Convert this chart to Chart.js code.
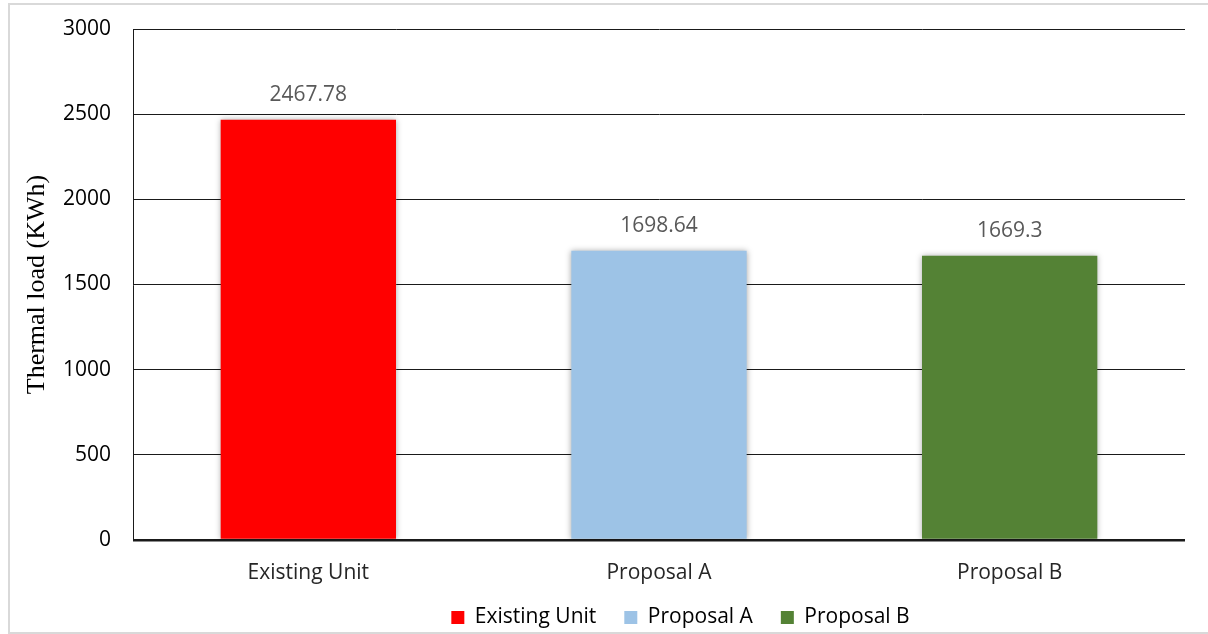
<!DOCTYPE html>
<html>
<head>
<meta charset="utf-8">
<script src="https://cdn.jsdelivr.net/npm/chart.js@4/dist/chart.umd.min.js"></script>
<style>
  html, body { margin: 0; padding: 0; background: #fff; }
  #wrap { width: 1208px; height: 634px; position: relative; }
</style>
</head>
<body>
<div id="wrap"><canvas id="chart_bar" width="1208" height="634"></canvas></div>
<script>
// data
var categories = ['Existing Unit', 'Proposal A', 'Proposal B']
var thermalLoad = [2467.78, 1698.64, 1669.3]
var valueLabels = ['2467.78', '1698.64', '1669.3']
var barColors = ['#ff0000', '#9dc3e6', '#548235']
var yTicks = [0, 500, 1000, 1500, 2000, 2500, 3000]

var tickFont = { family: 'Open Sans', size: 21 }

// light frame round the whole picture
var frame = {
	id: 'frame',
	beforeDraw: function(chart){
		var ctx = chart.ctx
		ctx.save()
		ctx.strokeStyle = '#d9d9d9'
		ctx.lineWidth = 2
		ctx.beginPath()
		ctx.moveTo(1208, 4)
		ctx.lineTo(9, 4)
		ctx.lineTo(9, 633)
		ctx.lineTo(1208, 633)
		ctx.stroke()
		ctx.restore()
	}
}

// legend sits a bit right of the middle in the original
var legendShift = {
	id: 'legendShift',
	afterLayout: function(chart){
		chart.legend.left += 88
		chart.legend.right += 88
		chart.legend.top -= 9
		chart.legend.bottom -= 9
	}
}

// soft shadow on the bars
var barShadow = {
	id: 'barShadow',
	beforeDatasetDraw: function(chart){
		var ctx = chart.ctx
		ctx.save()
		ctx.shadowColor = 'rgba(0,0,0,0.35)'
		ctx.shadowBlur = 6
		ctx.shadowOffsetX = 0
		ctx.shadowOffsetY = 0
	},
	afterDatasetDraw: function(chart){
		chart.ctx.restore()
	}
}

// value above each bar
var valueText = {
	id: 'valueText',
	afterDatasetsDraw: function(chart){
		var ctx = chart.ctx
		var meta = chart.getDatasetMeta(0)
		ctx.save()
		ctx.fillStyle = '#595959'
		ctx.font = '21px "Open Sans"'
		ctx.textAlign = 'center'
		ctx.textBaseline = 'middle'
		meta.data.forEach(function(bar, i){
			ctx.fillText(valueLabels[i], bar.x, bar.y - 25)
		})
		ctx.restore()
	}
}

var ctx = document.getElementById('chart_bar')
var myChart = new Chart(ctx, {
	type: 'bar',
	data: {
		labels: categories,
		datasets: [{
			label: 'Thermal load',
			data: thermalLoad,
			backgroundColor: barColors,
			borderWidth: 0,
			categoryPercentage: 1,
			barPercentage: 0.5
		}]
	},
	options: {
		responsive: false,
		animation: false,
		layout: { padding: { top: 29, right: 23, left: 0, bottom: -13 } },
		plugins: {
			tooltip: { enabled: false },
			legend: {
				position: 'bottom',
				labels: {
					font: tickFont,
					color: '#262626',
					boxWidth: 13,
					boxHeight: 13,
					padding: 28,
					generateLabels: function(chart){
						return categories.map(function(c, i){
							return { text: c, fillStyle: barColors[i], strokeStyle: barColors[i], lineWidth: 0, index: i }
						})
					}
				}
			}
		},
		scales: {
			x: {
				afterFit: function(scale){ scale.height = 48 },
				grid: { display: false, drawTicks: false },
				border: { display: false },
				ticks: { font: tickFont, color: '#262626', padding: 20, autoSkip: false, maxRotation: 0 }
			},
			y: {
				min: 0,
				max: 3000,
				afterBuildTicks: function(scale){
					scale.ticks = yTicks.map(function(v){ return { value: v } })
				},
				afterFit: function(scale){
					scale.width = 133
					scale.paddingTop = 0
					scale.paddingBottom = 0
				},
				grid: {
					color: '#1a1a1a',
					lineWidth: function(c){ return c.tick && c.tick.value === 0 ? 2.5 : 1 },
					drawTicks: false
				},
				border: { display: true, color: '#1a1a1a', width: 1 },
				ticks: {
					font: tickFont,
					color: '#000',
					padding: 22,
					callback: function(v){ return String(v) }
				},
				title: {
					display: true,
					text: 'Thermal load (KWh)',
					font: { family: 'Liberation Serif', size: 26 },
					color: '#000',
					padding: { top: 22, bottom: 0 }
				}
			}
		}
	},
	plugins: [frame, legendShift, barShadow, valueText]
})
</script>
</body>
</html>
